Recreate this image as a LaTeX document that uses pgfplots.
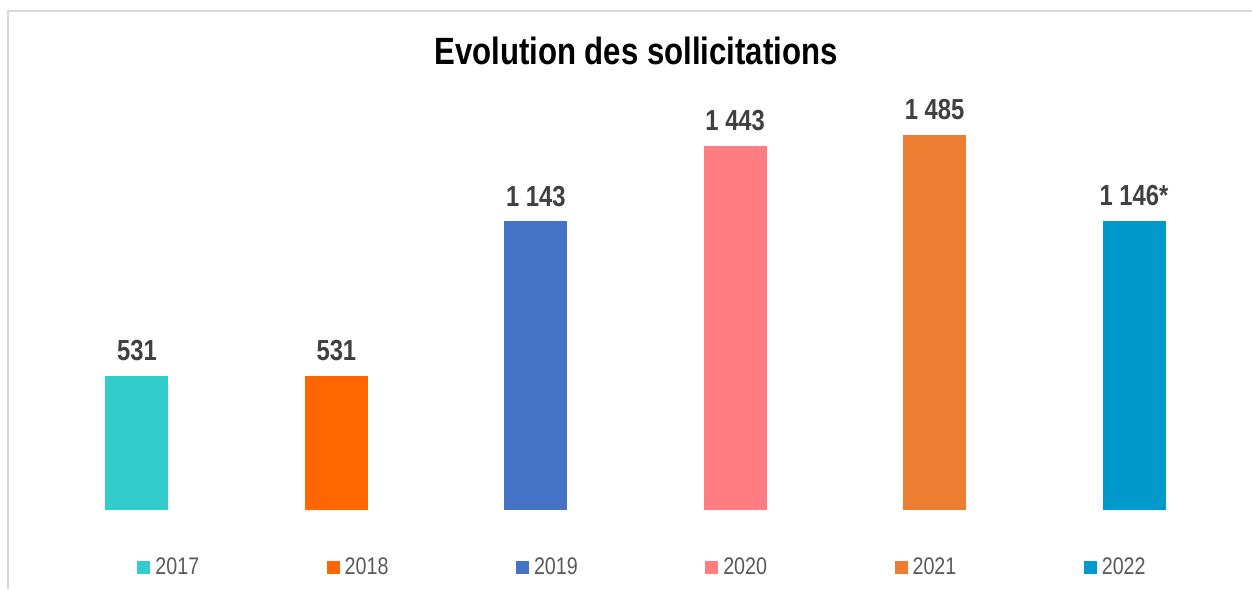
\documentclass[border=0pt]{standalone}
\usepackage{pgfplots}
\pgfplotsset{compat=1.18}
\usepackage{fontspec}
\setmainfont{Liberation Sans}[FakeStretch=0.82]
\definecolor{cA}{RGB}{51,204,204}
\definecolor{cB}{RGB}{255,102,0}
\definecolor{cC}{RGB}{68,114,196}
\definecolor{cD}{RGB}{255,124,128}
\definecolor{cE}{RGB}{237,125,49}
\definecolor{cF}{RGB}{0,153,204}
\definecolor{frame}{RGB}{217,217,217}
\definecolor{lbl}{RGB}{64,64,64}
\definecolor{leg}{RGB}{89,89,89}
\begin{document}
\begin{tikzpicture}
\useasboundingbox (0,0) rectangle (626pt,294.5pt);
\draw[line width=1pt, frame] (4pt,0) -- (4pt,289pt) -- (626pt,289pt);
\node[anchor=base, font=\fontsize{19}{22}\selectfont\bfseries] at (318pt,262pt) {Evolution des sollicitations};
\begin{axis}[
  at={(18.625pt,39.5pt)}, anchor=south west,
  scale only axis, width=598.25pt, height=240pt,
  xmin=-0.5, xmax=5.5, ymin=0, ymax=1901.7,
  hide axis,
  ybar, bar width=31.5pt, bar shift=0pt,
  point meta=explicit symbolic,
  nodes near coords={\pgfplotspointmeta},
  every node near coord/.append style={font=\fontsize{14.5}{16}\selectfont\bfseries, text=lbl, anchor=south, yshift=4pt},
  legend columns=6,
  legend image code/.code={\fill[#1] (0pt,-3.25pt) rectangle (6.5pt,3.25pt);},
  legend style={draw=none, fill=none, at={(0.0834,-0.1208)}, anchor=west,
    font=\fontsize{12}{14}\selectfont, text=leg, inner sep=0pt,
    nodes={inner sep=1.25pt},
    /tikz/every odd column/.append style={column sep=1.25pt},
    /tikz/every even column/.append style={column sep=62.5pt}},
]
\addplot[fill=cA, draw=none] coordinates {(0,531) [531]};
\addplot[fill=cB, draw=none] coordinates {(1,531) [531]};
\addplot[fill=cC, draw=none] coordinates {(2,1143) [1 143]};
\addplot[fill=cD, draw=none] coordinates {(3,1443) [1 443]};
\addplot[fill=cE, draw=none] coordinates {(4,1485) [1 485]};
\addplot[fill=cF, draw=none] coordinates {(5,1146) [1 146*]};
\legend{2017,2018,2019,2020,2021,2022}
\end{axis}
\end{tikzpicture}
\end{document}
